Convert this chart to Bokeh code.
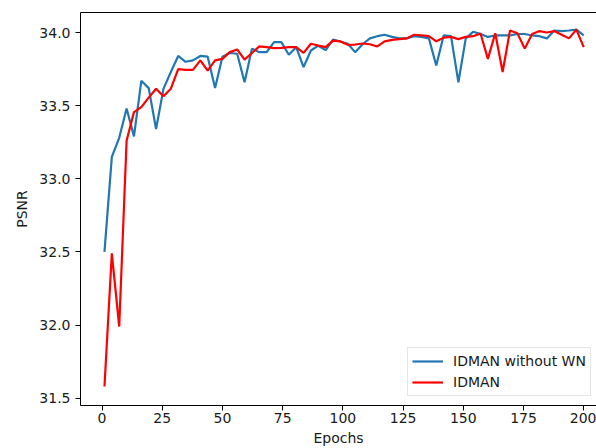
import numpy as np
from bokeh.plotting import figure
from bokeh.models import Range1d, LinearAxis, FixedTicker, NumeralTickFormatter
from bokeh.embed import file_html
from bokeh.resources import INLINE

# 66 evaluation points spread over epochs 1..200
epochs = list(np.linspace(1, 200, 66))

psnr_without_wn = [
    32.50, 33.15, 33.28, 33.48, 33.29, 33.67, 33.62, 33.34, 33.615, 33.73,
    33.84, 33.80, 33.81, 33.84, 33.835, 33.62, 33.835, 33.86, 33.855, 33.66,
    33.89, 33.866, 33.866, 33.934, 33.934, 33.848, 33.90, 33.764, 33.877, 33.91,
    33.88, 33.952, 33.939, 33.923, 33.866, 33.92, 33.96, 33.975, 33.985, 33.97,
    33.96, 33.96, 33.975, 33.97, 33.96, 33.775, 33.98, 33.975, 33.66, 33.96,
    34.005, 33.99, 33.97, 33.98, 33.98, 33.98, 33.99, 33.99, 33.98, 33.975,
    33.96, 34.014, 34.01, 34.014, 34.02, 33.98,
]

psnr_idman = [
    31.58, 32.49, 31.99, 33.26, 33.456, 33.49, 33.555, 33.616, 33.565, 33.616,
    33.75, 33.745, 33.745, 33.81, 33.74, 33.81, 33.82, 33.866, 33.884, 33.815,
    33.86, 33.905, 33.90, 33.893, 33.895, 33.90, 33.90, 33.861, 33.923, 33.911,
    33.90, 33.945, 33.939, 33.916, 33.918, 33.925, 33.92, 33.905, 33.94, 33.95,
    33.955, 33.96, 33.985, 33.98, 33.975, 33.94, 33.965, 33.97, 33.955, 33.97,
    33.975, 33.993, 33.82, 33.995, 33.73, 34.014, 33.995, 33.89, 33.99, 34.01,
    34.0, 34.01, 33.985, 33.96, 34.02, 33.90,
]

x_ticks = [0, 25, 50, 75, 100, 125, 150, 175, 200]
y_ticks = [31.5, 32.0, 32.5, 33.0, 33.5, 34.0]
series_names = ["IDMAN without WN", "IDMAN"]
series_colors = ["#1f77b4", "#ff0000"]

FONT = "DejaVu Sans"
FS = "14px"
TXT = "#1a1a1a"

p = figure(width=596, height=448, output_backend="svg", toolbar_location=None,
           x_range=Range1d(-8.95, 205.3), y_range=Range1d(31.45, 34.137),
           min_border_left=80, min_border_right=0, min_border_top=12,
           min_border_bottom=43)

p.background_fill_color = "white"
p.border_fill_color = "white"
p.outline_line_color = None
p.xgrid.visible = False
p.ygrid.visible = False

p.line(epochs, psnr_without_wn, line_color=series_colors[0], line_width=2.2,
       legend_label=series_names[0])
p.line(epochs, psnr_idman, line_color=series_colors[1], line_width=2.2,
       legend_label=series_names[1])

xa = p.below[0]
ya = p.left[0]
for ax in (xa, ya):
    ax.axis_line_color = "black"
    ax.axis_line_width = 1
    ax.major_tick_line_color = "black"
    ax.major_tick_out = 5
    ax.major_tick_in = 0
    ax.minor_tick_line_color = None
    ax.major_label_text_font = FONT
    ax.major_label_text_font_size = FS
    ax.major_label_text_color = TXT
    ax.axis_label_text_font = FONT
    ax.axis_label_text_font_size = FS
    ax.axis_label_text_font_style = "normal"
    ax.axis_label_text_color = TXT

xa.ticker = x_ticks
xa.major_label_standoff = 2
xa.axis_label = "Epochs"
xa.axis_label_standoff = 4
ya.ticker = y_ticks
ya.formatter = NumeralTickFormatter(format="0.0")
ya.major_label_standoff = 5
ya.axis_label = "PSNR"
ya.axis_label_standoff = 6

# top frame edge as a bare axis line (right edge lies outside the window)
top = LinearAxis(ticker=FixedTicker(ticks=[]), major_tick_out=0, major_tick_in=0,
                 minor_tick_out=0, minor_tick_in=0, axis_line_color="black",
                 axis_line_width=1, major_label_standoff=0,
                 major_label_text_font_size="1px")
p.add_layout(top, "above")

lg = p.legend[0]
lg.location = (327, 9)
lg.label_text_font = FONT
lg.label_text_font_size = FS
lg.label_text_color = TXT
lg.glyph_width = 31
lg.glyph_height = 18
lg.label_height = 18
lg.spacing = 3
lg.padding = 4
lg.margin = 0
lg.label_standoff = 10
lg.border_line_color = "#cccccc"
lg.border_line_width = 1
lg.background_fill_color = "white"
lg.background_fill_alpha = 0.8

open("out.html", "w").write(file_html(p, INLINE))
